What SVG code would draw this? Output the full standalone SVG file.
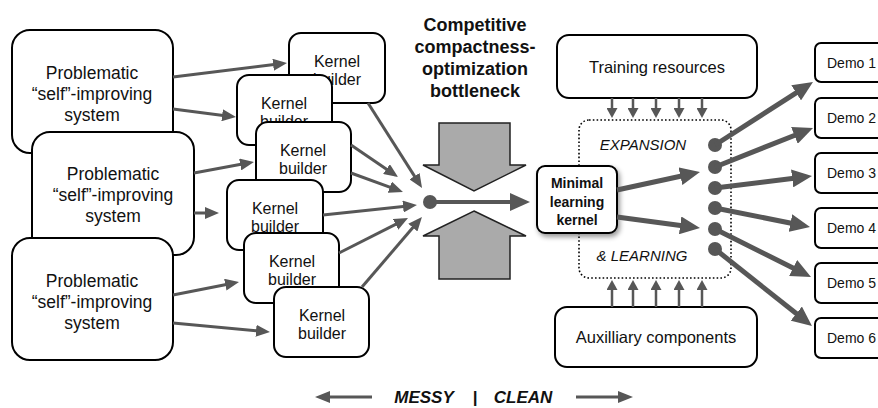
<svg xmlns="http://www.w3.org/2000/svg" width="878" height="408" viewBox="0 0 878 408">
<defs>
<marker id="ah" markerUnits="userSpaceOnUse" markerWidth="14" markerHeight="12" viewBox="0 0 14 12" refX="5" refY="6" orient="auto"><path d="M0,0 L14,6 L0,12 z" fill="#575757"/></marker>
<marker id="ahs" markerUnits="userSpaceOnUse" markerWidth="10" markerHeight="11" viewBox="0 0 10 11" refX="4" refY="5.5" orient="auto"><path d="M0,0 L10,5.5 L0,11 z" fill="#575757"/></marker>
<marker id="ahm" markerUnits="userSpaceOnUse" markerWidth="15" markerHeight="12" viewBox="0 0 15 12" refX="5" refY="6" orient="auto"><path d="M0,0 L15,6 L0,12 z" fill="#575757"/></marker>
<marker id="ahb" markerUnits="userSpaceOnUse" markerWidth="20" markerHeight="18" viewBox="0 0 20 18" refX="6" refY="9" orient="auto"><path d="M0,0 L20,9 L0,18 z" fill="#575757"/></marker>
<filter id="sh" x="-20%" y="-20%" width="150%" height="150%"><feDropShadow dx="2" dy="3" stdDeviation="2.5" flood-color="#000" flood-opacity="0.4"/></filter>
</defs>
<style>
.box{fill:#fff;stroke:#000;stroke-width:2}
.t{font-family:"Liberation Sans",Arial,sans-serif;fill:#111;text-anchor:middle}
.sys{font-size:17.5px}
.kb{font-size:16px}
.ti{font-size:18px;font-weight:bold}
.k{font-size:14px;font-weight:bold}
.it{font-size:15px;font-style:italic}
.res{font-size:16.5px}
.demo{font-size:14px;text-anchor:start}
.a{stroke:#575757;stroke-width:3;fill:none;marker-end:url(#ah)}
.as{stroke:#575757;stroke-width:2.5;fill:none;marker-end:url(#ahs)}
.ab{stroke:#575757;stroke-width:5;fill:none;marker-end:url(#ahb)}
.dot{fill:#575757}
.block{fill:#aaaaaa;stroke:#222;stroke-width:1.5}
</style>

<g id="system1"><rect class="box" x="12" y="30" width="161" height="123" rx="18"/>
<text class="t sys" x="92" y="79">Problematic</text><text class="t sys" x="92" y="100">“self”-improving</text><text class="t sys" x="92" y="121">system</text></g>
<g id="system2"><rect class="box" x="32" y="132" width="162" height="123" rx="18"/>
<text class="t sys" x="113" y="180">Problematic</text><text class="t sys" x="113" y="201">“self”-improving</text><text class="t sys" x="113" y="222">system</text></g>
<g id="system3"><rect class="box" x="12" y="238" width="161" height="122" rx="18"/>
<text class="t sys" x="92" y="287">Problematic</text><text class="t sys" x="92" y="308">“self”-improving</text><text class="t sys" x="92" y="329">system</text></g>

<g id="kb1"><rect class="box" x="289" y="33" width="96" height="70" rx="12"/><text class="t kb" x="337" y="67">Kernel</text><text class="t kb" x="337" y="85">builder</text></g>
<g id="kb2"><rect class="box" x="237" y="75" width="95" height="70" rx="12"/><text class="t kb" x="284" y="109">Kernel</text><text class="t kb" x="284" y="127">builder</text></g>
<g id="kb3"><rect class="box" x="256" y="122" width="95" height="70" rx="12"/><text class="t kb" x="303" y="156">Kernel</text><text class="t kb" x="303" y="174">builder</text></g>
<g id="kb4"><rect class="box" x="227" y="180" width="96" height="70" rx="12"/><text class="t kb" x="275" y="214">Kernel</text><text class="t kb" x="275" y="232">builder</text></g>
<g id="kb5"><rect class="box" x="244" y="233" width="95" height="70" rx="12"/><text class="t kb" x="292" y="267">Kernel</text><text class="t kb" x="292" y="285">builder</text></g>
<g id="kb6"><rect class="box" x="274" y="287" width="95" height="70" rx="12"/><text class="t kb" x="322" y="321">Kernel</text><text class="t kb" x="322" y="339">builder</text></g>

<g id="title"><text class="t ti" x="475" y="31">Competitive</text><text class="t ti" x="475" y="53">compactness-</text><text class="t ti" x="475" y="75">optimization</text><text class="t ti" x="475" y="97">bottleneck</text></g>

<g id="bottleneck">
<polygon class="block" points="439,123 510,123 510,165 526,165 474,191 423,165 439,165"/>
<polygon class="block" points="474,211 526,236 510,236 510,279 439,279 439,236 423,236"/>
</g>

<g id="training"><rect class="box" x="557" y="35" width="200" height="63" rx="12"/><text class="t res" x="657" y="73">Training resources</text></g>
<g id="auxiliary"><rect class="box" x="555" y="307" width="202" height="60" rx="12"/><text class="t res" x="656" y="343">Auxilliary components</text></g>

<g id="expansion">
<rect x="579" y="120" width="152" height="158" rx="10" fill="none" stroke="#000" stroke-width="1.6" stroke-dasharray="1.6 2.2"/>
<text class="t it" x="643" y="150">EXPANSION</text>
<text class="t it" x="642" y="261">&amp; LEARNING</text>
</g>

<g id="kernel"><rect class="box" x="537" y="166" width="80" height="67" rx="8" filter="url(#sh)"/>
<text class="t k" x="577" y="188">Minimal</text><text class="t k" x="577" y="206.5">learning</text><text class="t k" x="577" y="225">kernel</text></g>

<g id="demo1"><rect class="box" x="815" y="43" width="80" height="39" rx="6"/><text class="t demo" x="827" y="68">Demo 1</text></g>
<g id="demo2"><rect class="box" x="815" y="98" width="80" height="40" rx="6"/><text class="t demo" x="827" y="123">Demo 2</text></g>
<g id="demo3"><rect class="box" x="815" y="153" width="80" height="40" rx="6"/><text class="t demo" x="827" y="178">Demo 3</text></g>
<g id="demo4"><rect class="box" x="815" y="208" width="80" height="40" rx="6"/><text class="t demo" x="827" y="233">Demo 4</text></g>
<g id="demo5"><rect class="box" x="815" y="263" width="80" height="40" rx="6"/><text class="t demo" x="827" y="288">Demo 5</text></g>
<g id="demo6"><rect class="box" x="815" y="318" width="80" height="40" rx="6"/><text class="t demo" x="827" y="343">Demo 6</text></g>

<g id="connectors">
<line class="a" x1="173" y1="77" x2="278.1" y2="64.1"/>
<line class="a" x1="173" y1="109" x2="227.1" y2="115.9"/>
<line class="a" x1="194" y1="173" x2="245.1" y2="163.6"/>
<line class="a" x1="194" y1="213" x2="210" y2="213"/>
<line class="a" x1="173" y1="295" x2="230.2" y2="283.7"/>
<line class="a" x1="173" y1="323" x2="261" y2="331.2"/>

<line class="a" x1="368" y1="103" x2="417.2" y2="180.4"/>
<line class="a" x1="351" y1="145" x2="390.6" y2="171.9"/>
<line class="a" x1="351" y1="173" x2="394.5" y2="188.9"/>
<line class="a" x1="323" y1="215" x2="408" y2="206"/>
<line class="a" x1="339" y1="253" x2="400" y2="222.1"/>
<line class="a" x1="362" y1="287" x2="416.1" y2="223.8"/>

<circle class="dot" cx="430" cy="202" r="7"/>
<line x1="430" y1="202" x2="516" y2="202" stroke="#575757" stroke-width="4" marker-end="url(#ahb)"/>

<line class="as" x1="612" y1="98" x2="612" y2="112"/>
<line class="as" x1="633" y1="98" x2="633" y2="112"/>
<line class="as" x1="656" y1="98" x2="656" y2="112"/>
<line class="as" x1="679" y1="98" x2="679" y2="112"/>
<line class="as" x1="702" y1="98" x2="702" y2="112"/>
<line class="as" x1="612" y1="307" x2="612" y2="286"/>
<line class="as" x1="633" y1="307" x2="633" y2="286"/>
<line class="as" x1="656" y1="307" x2="656" y2="286"/>
<line class="as" x1="679" y1="307" x2="679" y2="286"/>
<line class="as" x1="702" y1="307" x2="702" y2="286"/>

<line class="ab" x1="617" y1="190" x2="686.3" y2="175"/>
<line class="ab" x1="617" y1="217" x2="686.1" y2="226.2"/>

<circle class="dot" cx="715" cy="145" r="7"/>
<circle class="dot" cx="715" cy="167" r="7"/>
<circle class="dot" cx="715" cy="188" r="7"/>
<circle class="dot" cx="715" cy="208" r="7"/>
<circle class="dot" cx="715" cy="229" r="7"/>
<circle class="dot" cx="715" cy="249" r="7"/>
<line class="ab" x1="715" y1="145" x2="801.2" y2="89.6"/>
<line class="ab" x1="715" y1="167" x2="800" y2="133.2"/>
<line class="ab" x1="715" y1="188" x2="798.1" y2="177.7"/>
<line class="ab" x1="715" y1="208" x2="796.3" y2="224.3"/>
<line class="ab" x1="715" y1="229" x2="798.5" y2="270.7"/>
<line class="ab" x1="715" y1="249" x2="801" y2="317.3"/>

<line x1="372" y1="397" x2="325" y2="397" stroke="#575757" stroke-width="3" marker-end="url(#ahm)"/>
<line x1="576" y1="397" x2="623" y2="397" stroke="#575757" stroke-width="3" marker-end="url(#ahm)"/>
</g>

<g id="axis-label"><text class="t" style="font-size:17px;font-weight:bold;font-style:italic"><tspan x="424" y="403">MESSY</tspan><tspan x="475" y="403">|</tspan><tspan x="523" y="403">CLEAN</tspan></text></g>
</svg>
